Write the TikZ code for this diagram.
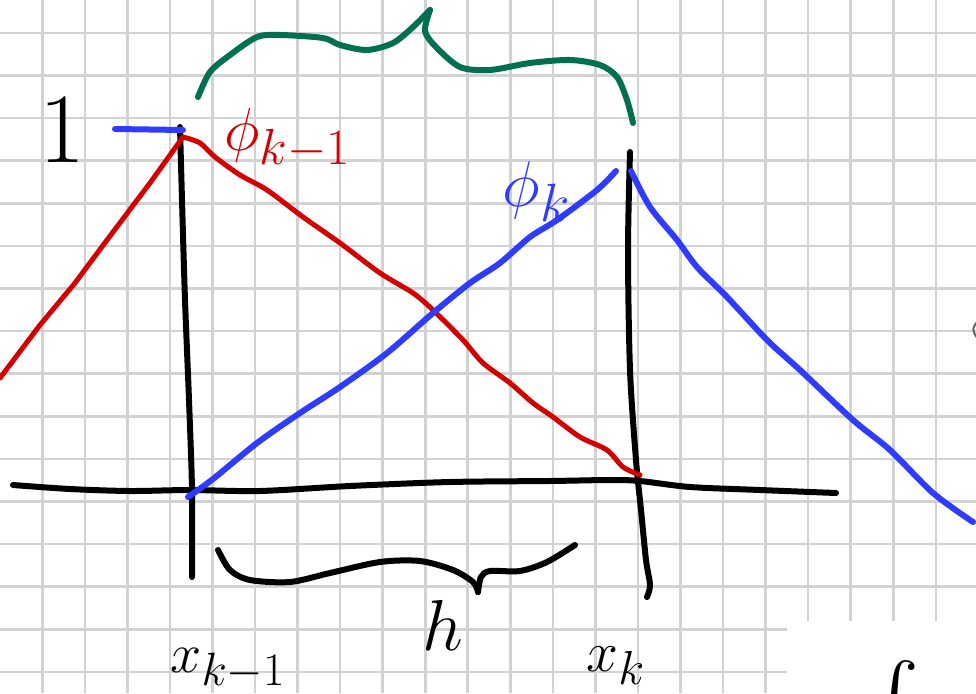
\documentclass[tikz,border=0pt]{standalone}
\usepackage{amsmath}
\usepackage{xcolor}
\definecolor{sketchink}{HTML}{000000}
\definecolor{sketchred}{HTML}{D40000}
\definecolor{sketchblue}{HTML}{2F3BFF}
\definecolor{sketchgreen}{HTML}{007050}
\definecolor{sketchgrid}{HTML}{D2D2D2}

\begin{document}
\begin{tikzpicture}[
  x=1pt,
  y=-1pt,
  pen/.style={line width=6pt, line cap=round, line join=round},
  gridline/.style={sketchgrid, line width=2.6pt},
  every node/.style={inner sep=0pt, font=\Huge}
]
  \useasboundingbox (0,0) rectangle (976,693);
  \clip (0,0) rectangle (976,693);

  % squared paper
  \foreach \k in {1,...,22}
    \draw[gridline] (42.55*\k-0.3,0) -- (42.55*\k-0.3,693);
  \foreach \k in {0,...,15}
    \draw[gridline] (0,32.9+42.6*\k) -- (976,32.9+42.6*\k);
  \fill[white] (787,621) rectangle (976,693);

  % axis and the two nodes
  \draw[sketchink, pen] plot[smooth] coordinates {(13,485) (70,489) (130,491)
    (190,490) (260,491) (350,486) (450,482) (550,481) (610,480) (640,481)
    (690,487) (760,490) (836,493)};
  \draw[sketchink, pen] plot[smooth] coordinates {(180,127) (182,200) (185,300)
    (189,400) (192,490) (192,577)};
  \draw[sketchink, pen] plot[smooth] coordinates {(630,152) (628,250) (630,370)
    (636,460) (641,510) (646,560) (650,585) (647,597)};

  % hat function phi_{k-1}
  \draw[sketchred, line width=5pt, line cap=round] (0,378) -- (40,325) -- (75,283)
    -- (107,240) -- (150,183) -- (183,137);
  \draw[sketchred, line width=5pt, line cap=round, line join=round] plot[smooth]
    coordinates {(183,137) (200,143) (215,157) (240,175) (267,190) (303,217)
    (340,243) (380,273) (413,293) (433,310) (463,340) (483,363) (510,383)
    (533,403) (553,417) (580,437) (607,450) (623,467) (640,475)};

  % hat function phi_k
  \draw[sketchblue, pen] (115,129) -- (183,130);
  \draw[sketchblue, pen] plot[smooth] coordinates {(188,497) (213,479) (257,443)
    (300,413) (340,387) (387,353) (433,313) (470,283) (500,263) (530,237)
    (557,220) (597,190) (616,171)};
  \draw[sketchblue, pen] plot[smooth] coordinates {(631,171) (650,207) (677,240)
    (697,267) (727,297) (767,340) (800,370) (853,420) (890,450) (933,493)
    (973,522)};

  % braces
  \draw[sketchgreen, pen] plot[smooth] coordinates {(198,97) (210,72) (230,55)
    (257,37) (280,35) (323,38) (340,45) (367,50) (393,43) (413,27) (430,10)};
  \draw[sketchgreen, pen] plot[smooth] coordinates {(430,10) (425,31) (436,47)
    (460,67) (490,70) (530,63) (570,60) (600,65) (617,77) (627,100) (633,123)};
  \draw[sketchink, pen] plot[smooth] coordinates {(218,550) (230,570) (250,580)
    (290,582) (330,573) (380,562) (420,561) (453,570) (473,582) (478,592)};
  \draw[sketchink, pen] plot[smooth] coordinates {(478,592) (481,577) (490,571)
    (520,571) (547,562) (575,545)};

  % labels
  \node[sketchink, anchor=base, scale=4] (one) at (62,162) {1};
  \node[sketchred, anchor=base west, scale=2.45] (phikm) at (224,150)
    {$\phi_{k-1}$};
  \node[sketchblue, anchor=base west, scale=2.6] (phik) at (502,206)
    {$\phi_k$};
  \node[sketchink, anchor=base west, scale=2.25] (xkm) at (170,672)
    {$x_{k-1}$};
  \node[sketchink, anchor=base west, scale=2.9] (hlen) at (422,650) {$h$};
  \node[sketchink, anchor=base west, scale=2.3] (xk) at (586,671) {$x_k$};
  \node[sketchink, anchor=north, scale=3.2] (intsign) at (893,660) {$\int$};
  \draw[sketchink!60, line width=2pt] (977,322) .. controls (972,329) .. (977,338);
\end{tikzpicture}
\end{document}
